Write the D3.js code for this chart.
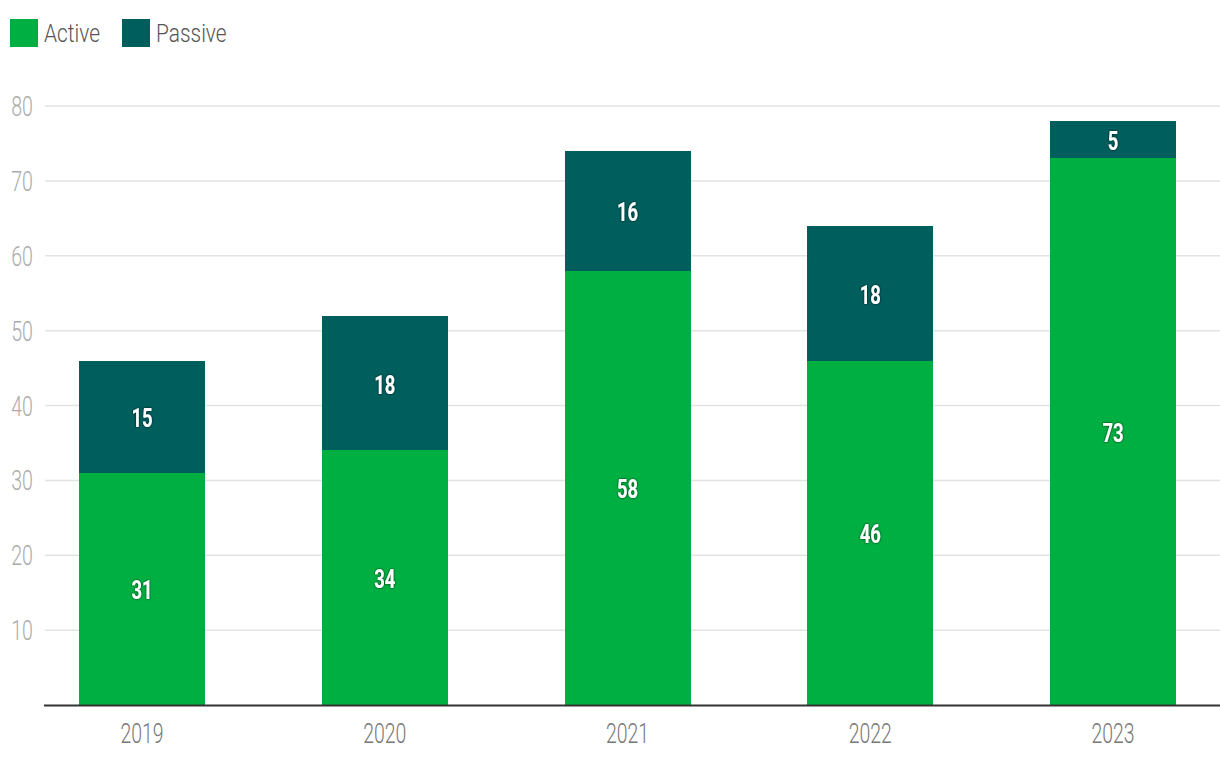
<!DOCTYPE html>
<html><head><meta charset="utf-8">
<script src="https://cdn.jsdelivr.net/npm/d3@7"></script>
<style>
body{margin:0;background:#fff;}
text{font-family:"Roboto","Liberation Sans",sans-serif;}
</style></head>
<body><svg id="c" width="1220" height="766"></svg>
<script>
const years = ["2019","2020","2021","2022","2023"];
const active = [31,34,58,46,73];
const passive = [15,18,16,18,5];
const yTicks = [10,20,30,40,50,60,70,80];
const seriesNames = ["Active","Passive"];
const colors = ["#00AF41","#005E5D"];

const svg = d3.select("#c");
const x = d3.scaleBand().domain(years).range([45,1220]).paddingInner(0.481).paddingOuter(0.1607).align(0.436);
const y = d3.scaleLinear().domain([0,80]).range([705,106]);

function place(sel, fx, fy, sx){
  return sel.attr("transform",(d,i)=>`translate(${fx(d,i)},${fy(d,i)}) scale(${sx},1)`);
}

// grid
svg.append("g").selectAll("line").data(yTicks).join("line")
  .attr("x1",45).attr("x2",1220).attr("y1",d=>y(d)).attr("y2",d=>y(d))
  .attr("stroke","#e3e3e3").attr("stroke-width",1.5);
place(svg.append("g").selectAll("text").data(yTicks).join("text"), ()=>33, d=>y(d), 0.7)
  .attr("dy","0.36em").attr("text-anchor","end").attr("font-weight",300)
  .attr("fill","#ababab").attr("font-size",28).text(d=>d);

const stackData = years.map((yr,i)=>({year:yr,Active:active[i],Passive:passive[i]}));
const stack = d3.stack().keys(seriesNames)(stackData);

const defs = svg.append("defs");
const f = defs.append("filter").attr("id","sh").attr("x","-30%").attr("y","-30%").attr("width","160%").attr("height","160%");
f.append("feDropShadow").attr("dx",0).attr("dy",0).attr("stdDeviation",1.3).attr("flood-color","#000").attr("flood-opacity",0.85);

stack.forEach((s,si)=>{
  const g = svg.append("g");
  g.selectAll("rect").data(s).join("rect")
    .attr("x",d=>x(d.data.year)).attr("width",x.bandwidth())
    .attr("y",d=>y(d[1])).attr("height",d=>y(d[0])-y(d[1]))
    .attr("fill",colors[si]).attr("shape-rendering","crispEdges");
  place(g.selectAll("text").data(s).join("text"),
      d=>x(d.data.year)+x.bandwidth()/2, d=>(y(d[0])+y(d[1]))/2, 0.74)
    .attr("dy","0.42em")
    .attr("text-anchor","middle").attr("fill","#fff").attr("font-weight","bold")
    .attr("font-size",25).attr("filter","url(#sh)")
    .text(d=>d[1]-d[0]);
});

// baseline
svg.append("line").attr("x1",44).attr("x2",1220).attr("y1",705.5).attr("y2",705.5).attr("stroke","#333").attr("stroke-width",2);
place(svg.append("g").selectAll("text").data(years).join("text"),
    d=>x(d)+x.bandwidth()/2, ()=>733, 0.72)
  .attr("dy","0.36em").attr("text-anchor","middle").attr("font-weight",300)
  .attr("fill","#777").attr("font-size",27).text(d=>d);

// legend
const legX = [10,122];
seriesNames.forEach((n,i)=>{
  svg.append("rect").attr("x",legX[i]).attr("y",19).attr("width",28).attr("height",28).attr("fill",colors[i]);
  svg.append("text").attr("transform",`translate(${legX[i]+34},33) scale(0.82,1)`)
    .attr("dy","0.36em").attr("fill","#555").attr("font-weight",300).attr("font-size",25.5).text(n);
});
</script></body></html>
